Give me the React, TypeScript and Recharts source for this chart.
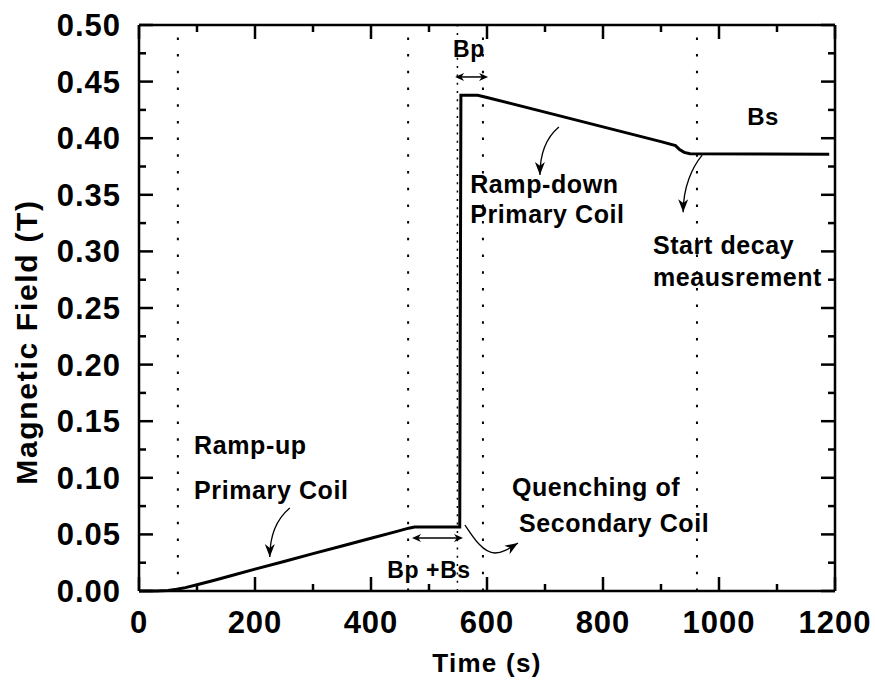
import { LineChart, Line, XAxis, YAxis, ReferenceLine, ReferenceDot, Label } from "recharts";

// measured field during the coil sequence
const time = [0, 30, 50, 65, 80, 100, 130, 160, 200, 250, 300, 350, 400, 440, 465, 475, 553, 555, 584, 600, 700, 800, 900, 925, 932, 940, 950, 1190];
const field = [0, 0, 0.0005, 0.0015, 0.003, 0.0055, 0.0095, 0.0137, 0.0193, 0.026, 0.033, 0.0398, 0.0466, 0.052, 0.0555, 0.0565, 0.0565, 0.438, 0.438, 0.436, 0.423, 0.41, 0.397, 0.3935, 0.39, 0.3875, 0.3862, 0.3858];

const xMajor = [0, 200, 400, 600, 800, 1000, 1200];
const xMinor = [100, 300, 500, 700, 900, 1100];
const yMajor = [0, 0.05, 0.1, 0.15, 0.2, 0.25, 0.3, 0.35, 0.4, 0.45, 0.5];
const yMinor = [0.025, 0.075, 0.125, 0.175, 0.225, 0.275, 0.325, 0.375, 0.425, 0.475];

// dotted markers between the phases
const phaseMarks = [67, 464, 593, 962];
const jumpMark = 549;

const notes = [
  { text: "Bp", t: 569, b: 0.479, anchor: "middle", size: 23 },
  { text: "Bs", t: 1076, b: 0.419, anchor: "middle", size: 24 },
  { text: "Ramp-down", t: 571, b: 0.3595, anchor: "start", size: 25 },
  { text: "Primary Coil", t: 571, b: 0.333, anchor: "start", size: 25 },
  { text: "Start decay", t: 886, b: 0.3057, anchor: "start", size: 25 },
  { text: "meausrement", t: 886, b: 0.2774, anchor: "start", size: 25 },
  { text: "Ramp-up", t: 95, b: 0.129, anchor: "start", size: 25 },
  { text: "Primary Coil", t: 95, b: 0.0892, anchor: "start", size: 25 },
  { text: "Quenching of", t: 643, b: 0.0919, anchor: "start", size: 25 },
  { text: "Secondary Coil", t: 655, b: 0.06, anchor: "start", size: 25 },
  { text: "Bp +Bs", t: 500, b: 0.0186, anchor: "middle", size: 23 },
];

// curved pointers: start in data units, path offsets in px
const pointers = [
  { t: 260, b: 0.0733, d: "M0,0 C-12,10 -20,26 -20,49", from: [-20, 30], tip: [-20, 49] },
  { t: 724, b: 0.41, d: "M0,0 C-12,10 -19,26 -19,48", from: [-19, 30], tip: [-19, 48] },
  { t: 971, b: 0.385, d: "M0,0 C-10,12 -19,32 -19,57", from: [-19, 38], tip: [-19, 57] },
  { t: 562, b: 0.0583, d: "M0,0 C8,12 18,28 30,28 C38,28 45,23 53,18", from: [45, 23], tip: [53, 18] },
];

// double-headed spans: start in data units, length in px
const spans = [
  { t: 545, b: 0.4541, len: 33 },
  { t: 470.7, b: 0.0468, len: 51 },
];

const points = time.map((t, i) => ({ t, b: field[i] }));

const FONT = "'Liberation Sans', Arial, Helvetica, sans-serif";
const AX = { stroke: "#000", strokeWidth: 2.5 };
const tickFont = { fontFamily: FONT, fontWeight: "bold", fontSize: 31, fill: "#000", letterSpacing: 1 };

function head(tx: number, ty: number, fx: number, fy: number, len: number, half: number) {
  const a = Math.atan2(ty - fy, tx - fx);
  const bx = tx - len * Math.cos(a);
  const by = ty - len * Math.sin(a);
  const px = -Math.sin(a) * half;
  const py = Math.cos(a) * half;
  const nx = tx - len * 0.7 * Math.cos(a);
  const ny = ty - len * 0.7 * Math.sin(a);
  return `M${tx},${ty} L${bx + px},${by + py} L${nx},${ny} L${bx - px},${by - py} Z`;
}

// inward tick mark drawn at a data position; dx/dy give the direction into the plot
function tickMark(key: string, x: number, y: number, dx: number, dy: number, len: number) {
  return (
    <ReferenceDot
      key={key}
      xAxisId="b"
      yAxisId="l"
      x={x}
      y={y}
      ifOverflow="visible"
      shape={(p: any) => (
        <line x1={p.cx} y1={p.cy} x2={p.cx + dx * len} y2={p.cy + dy * len} stroke="#000" strokeWidth={2.5} />
      )}
    />
  );
}

export default function App() {
  return (
    <div style={{ position: "absolute", left: 0, top: 0, width: 875, height: 682, background: "#fff" }}>
      <LineChart width={875} height={682} data={points} margin={{ top: 25, right: 40, bottom: 0, left: 0 }}>
        <XAxis xAxisId="b" dataKey="t" type="number" domain={[0, 1200]} ticks={xMajor} interval={0}
          height={91} tickSize={0} tickMargin={20} tickLine={false} tick={tickFont} axisLine={AX}>
          <Label
            value="Time (s)"
            position="insideBottom"
            offset={10}
            style={{ fontFamily: FONT, fontWeight: "bold", fontSize: 26, letterSpacing: 1.3, fill: "#000" }}
          />
        </XAxis>
        <YAxis yAxisId="l" type="number" domain={[0, 0.5]} ticks={yMajor} interval={0}
          width={139} tickSize={0} tickMargin={18} tickLine={false} tick={tickFont} axisLine={AX}
          tickFormatter={(v: number) => v.toFixed(2)}>
          <Label
            content={() => (
              <text
                transform="translate(37,342) rotate(-90)"
                textAnchor="middle"
                fontFamily={FONT}
                fontWeight="bold"
                fontSize={30}
                letterSpacing={1.7}
                fill="#000"
              >
                Magnetic Field (T)
              </text>
            )}
          />
        </YAxis>

        <ReferenceLine y={0.5} xAxisId="b" yAxisId="l" stroke="#000" strokeWidth={2.5} />
        <ReferenceLine x={1200} xAxisId="b" yAxisId="l" stroke="#000" strokeWidth={2.5} />

        {phaseMarks.map((m) => (
          <ReferenceLine key={m} x={m} xAxisId="b" yAxisId="l" stroke="#000" strokeWidth={2} strokeDasharray="2.5 14.2" />
        ))}
        <ReferenceLine x={jumpMark} xAxisId="b" yAxisId="l" stroke="#000" strokeWidth={1.5} strokeDasharray="2 6.3" />

        {xMajor.map((v) => tickMark("xb" + v, v, 0, 0, -1, 14))}
        {xMinor.map((v) => tickMark("xbm" + v, v, 0, 0, -1, 7))}
        {xMajor.map((v) => tickMark("xt" + v, v, 0.5, 0, 1, 14))}
        {xMinor.map((v) => tickMark("xtm" + v, v, 0.5, 0, 1, 7))}
        {yMajor.map((v) => tickMark("yl" + v, 0, v, 1, 0, 14))}
        {yMinor.map((v) => tickMark("ylm" + v, 0, v, 1, 0, 7))}
        {yMajor.map((v) => tickMark("yr" + v, 1200, v, -1, 0, 14))}
        {yMinor.map((v) => tickMark("yrm" + v, 1200, v, -1, 0, 7))}

        <Line
          xAxisId="b"
          yAxisId="l"
          type="linear"
          dataKey="b"
          stroke="#000"
          strokeWidth={3}
          dot={false}
          isAnimationActive={false}
        />
        {notes.map((n, i) => (
          <ReferenceDot
            key={"n" + i}
            xAxisId="b"
            yAxisId="l"
            x={n.t}
            y={n.b}
            ifOverflow="visible"
            shape={(p: any) => (
              <text
                x={p.cx}
                y={p.cy + n.size * 0.36}
                textAnchor={n.anchor}
                fontFamily={FONT}
                fontWeight="bold"
                fontSize={n.size}
                letterSpacing={0.6}
                fill="#000"
              >
                {n.text}
              </text>
            )}
          />
        ))}
        {pointers.map((a, i) => (
          <ReferenceDot
            key={"a" + i}
            xAxisId="b"
            yAxisId="l"
            x={a.t}
            y={a.b}
            ifOverflow="visible"
            shape={(p: any) => (
              <g transform={`translate(${p.cx},${p.cy})`}>
                <path d={a.d} fill="none" stroke="#000" strokeWidth={1.3} />
                <path d={head(a.tip[0], a.tip[1], a.from[0], a.from[1], 13, 5)} fill="#000" />
              </g>
            )}
          />
        ))}
        {spans.map((s, i) => (
          <ReferenceDot
            key={"s" + i}
            xAxisId="b"
            yAxisId="l"
            x={s.t}
            y={s.b}
            ifOverflow="visible"
            shape={(p: any) => (
              <g transform={`translate(${p.cx},${p.cy})`}>
                <line x1={2} y1={0} x2={s.len - 2} y2={0} stroke="#000" strokeWidth={1.5} />
                <path d={head(0, 0, 10, 0, 9, 4)} fill="#000" />
                <path d={head(s.len, 0, s.len - 10, 0, 9, 4)} fill="#000" />
              </g>
            )}
          />
        ))}
      </LineChart>
    </div>
  );
}
